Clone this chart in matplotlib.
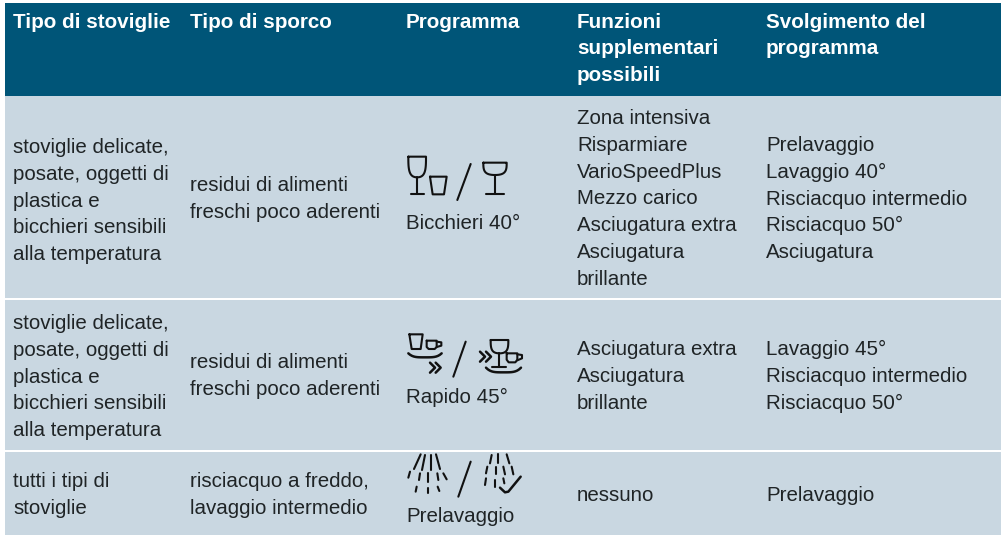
import matplotlib
matplotlib.use("Agg")
import matplotlib.pyplot as plt
from matplotlib.patches import Rectangle
import numpy as np

W, H = 1001, 535
HEAD = "#005578"; BODY = "#c9d7e1"; INK = "#1f2426"

headers = [["Tipo di stoviglie"], ["Tipo di sporco"], ["Programma"],
           ["Funzioni", "supplementari", "possibili"], ["Svolgimento del", "programma"]]
col_x = [13, 190, 406, 577, 766]
delicate = ["stoviglie delicate,", "posate, oggetti di", "plastica e", "bicchieri sensibili", "alla temperatura"]
residui = ["residui di alimenti", "freschi poco aderenti"]
rows = [
    [(153, delicate), (191, residui), (229, ["Bicchieri 40°"]),
     (124, ["Zona intensiva", "Risparmiare", "VarioSpeedPlus", "Mezzo carico", "Asciugatura extra", "Asciugatura", "brillante"]),
     (151, ["Prelavaggio", "Lavaggio 40°", "Risciacquo intermedio", "Risciacquo 50°", "Asciugatura"])],
    [(329, delicate), (368, residui), (403, ["Rapido 45°"]),
     (355, ["Asciugatura extra", "Asciugatura", "brillante"]),
     (355, ["Lavaggio 45°", "Risciacquo intermedio", "Risciacquo 50°"])],
    [(487, ["tutti i tipi di", "stoviglie"]), (487, ["risciacquo a freddo,", "lavaggio intermedio"]), (522, ["Prelavaggio"]),
     (501, ["nessuno"]), (501, ["Prelavaggio"])],
]

fig = plt.figure(figsize=(W/100, H/100), dpi=100, facecolor="white")
ax = fig.add_axes([0, 0, 1, 1]); ax.set_xlim(0, W); ax.set_ylim(H, 0); ax.axis("off")
ax.add_patch(Rectangle((5, 3), W-5, 93, fc=HEAD, ec="none"))
ax.add_patch(Rectangle((5, 96), W-5, 202, fc=BODY, ec="none"))
ax.add_patch(Rectangle((5, 300), W-5, 150, fc=BODY, ec="none"))
ax.add_patch(Rectangle((5, 452), W-5, 83, fc=BODY, ec="none"))

PITCH = 26.8
for x, lines in zip(col_x, headers):
    for i, s in enumerate(lines):
        ax.text(x, 27.5 + i*PITCH, s, color="white", fontsize=14.9, fontweight="bold",
                family="Liberation Sans", va="baseline", ha="left")
for row in rows:
    for x, (y0, lines) in zip(col_x, row):
        for i, s in enumerate(lines):
            ax.text(x, y0 + i*PITCH, s, color=INK, fontsize=14.8, family="Liberation Sans",
                    va="baseline", ha="left")

def L(pts, lw=2.0, off=(0, 0), sc=1/3):
    a = np.array(pts, float)
    ax.plot(off[0] + a[:, 0]*sc, off[1] + a[:, 1]*sc, color="#111111", lw=lw*0.75,
            solid_capstyle="round", solid_joinstyle="round")

def bowl(x0, x1, top, bot, off):
    xm = (x0+x1)/2
    t = np.linspace(0, 1, 20)
    left = [(x0 + (xm-x0)*t_**3, top + (bot-top)*np.sin(t_*np.pi/2)) for t_ in t]
    right = [(2*xm-a, b) for a, b in reversed(left)]
    L([(x0, top)] + left + right + [(x1, top), (x0, top)], off=off)

def arc(x0, x1, y0, y1, off):
    t = np.linspace(-1, 1, 20)
    L([((x0+x1)/2 + (x1-x0)/2*v, y1 - (y1-y0)*v**4) for v in t], lw=2.4, off=off)

# Bicchieri icon
o = (400, 140)
bowl(25, 78, 50, 112, o); L([(52, 112), (52, 163)], off=o); L([(32, 163), (72, 163)], off=o)
L([(90, 110), (140, 110), (132, 163), (98, 163), (90, 110)], off=o)
L([(212, 72), (172, 180)], off=o)
bowl(250, 320, 68, 105, o); L([(285, 105), (285, 163)], off=o); L([(257, 163), (313, 163)], off=o)

# Rapido icon
o = (400, 325)
L([(28, 28), (68, 28), (62, 72), (35, 72), (28, 28)], off=o)
L([(80, 47), (110, 47), (110, 66), (104, 72), (86, 72), (80, 66), (80, 47)], off=o)
L([(110, 50), (124, 52), (124, 62), (110, 66)], off=o)
arc(25, 125, 85, 97, o)
for dx in (0, 17):
    L([(90+dx, 113), (105+dx, 128), (90+dx, 143)], lw=2.4, off=o)
L([(197, 50), (160, 155)], off=o)
for dx in (0, 18):
    L([(240+dx, 80), (255+dx, 95), (240+dx, 110)], lw=2.4, off=o)
bowl(272, 325, 45, 85, o); L([(297, 85), (297, 125)], off=o); L([(275, 125), (318, 125)], off=o)
L([(320, 85), (352, 85), (352, 104), (346, 112), (326, 112), (320, 104), (320, 85)], off=o)
L([(352, 88), (366, 90), (366, 100), (352, 106)], off=o)
arc(258, 363, 128, 142, o)

# Prelavaggio icon
o = (400, 445)
spray1 = [[(62, 28), (42, 72)], [(75, 30), (66, 75)], [(92, 30), (92, 75)], [(108, 28), (120, 72)],
          [(30, 80), (25, 98)], [(60, 85), (57, 105)], [(85, 85), (85, 110)], [(112, 85), (115, 105)], [(130, 85), (140, 103)],
          [(50, 125), (47, 140)], [(83, 128), (83, 143)], [(113, 125), (118, 138)]]
for seg in spray1:
    L(seg, off=o)
L([(212, 50), (175, 155)], off=o)
spray2 = [[(275, 30), (270, 55)], [(295, 28), (295, 55)], [(320, 28), (328, 55)],
          [(262, 65), (258, 85)], [(288, 65), (288, 88)], [(310, 65), (315, 88)], [(335, 65), (340, 88)],
          [(258, 100), (255, 120)], [(285, 105), (285, 125)], [(310, 100), (313, 115)]]
for seg in spray2:
    L(seg, off=o)
L([(300, 128), (315, 142), (325, 140), (362, 95)], lw=2.4, off=o)

fig.savefig("out.png", dpi=100, facecolor="white")
